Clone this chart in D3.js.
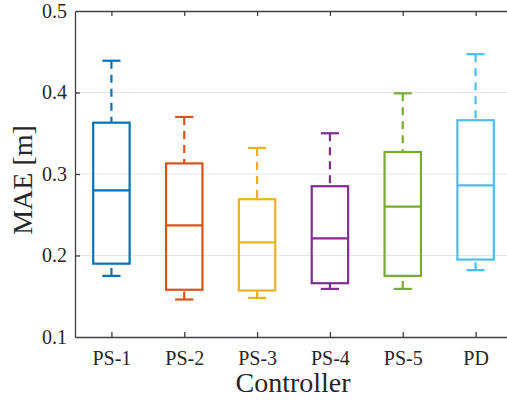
<!DOCTYPE html>
<html lang="en">
<head>
    <meta charset="UTF-8"/>
    <title>MAE box plot</title>
    <script src="https://d3js.org/d3.v7.min.js"></script>
    <style>
        body { margin: 0; background: #fff; }
    </style>
</head>
<body>
<script>

    var w = 507;
    var h = 401;

    // data
    var categories = ["PS-1", "PS-2", "PS-3", "PS-4", "PS-5", "PD"];
    var upperWhisker = [0.439, 0.370, 0.332, 0.350, 0.399, 0.447];
    var q3 = [0.363, 0.313, 0.269, 0.285, 0.327, 0.366];
    var median = [0.280, 0.237, 0.216, 0.221, 0.260, 0.286];
    var q1 = [0.190, 0.158, 0.157, 0.166, 0.175, 0.195];
    var lowerWhisker = [0.175, 0.146, 0.148, 0.159, 0.159, 0.182];
    var colors = ["#0072BD", "#D95319", "#EDB120", "#7E2F8E", "#77AC30", "#4DBEEE"];
    var yTicks = [0.1, 0.2, 0.3, 0.4, 0.5];

    var serif = "'Liberation Serif', 'Times New Roman', serif";
    var plotLeft = 75, plotTop = 11, plotRight = 512, plotBottom = 337;

    var xScale = d3.scaleLinear()
                    .domain([0.5, categories.length + 0.5])
                    .range([plotLeft, plotRight]);

    var yScale = d3.scaleLinear()
                    .domain([0.1, 0.5])
                    .range([plotBottom, plotTop]);

    var svg = d3.select("body")
                .append("svg")
                .attr("width", w)
                .attr("height", h);

    // grid
    svg.selectAll(".grid")
        .data(yTicks.slice(1, -1))
        .enter()
        .append("line")
        .attr("x1", plotLeft)
        .attr("x2", plotRight)
        .attr("y1", function(d){ return yScale(d); })
        .attr("y2", function(d){ return yScale(d); })
        .style("stroke", "#e6e6e6")
        .style("stroke-width", 1);

    // axes (ticks pointing inward, like matlab)
    var xAxis = d3.axisBottom(xScale)
                    .tickValues(d3.range(1, categories.length + 1))
                    .tickFormat(function(d){ return categories[d - 1]; })
                    .tickSizeInner(-5)
                    .tickSizeOuter(0)
                    .tickPadding(14);

    var yAxis = d3.axisLeft(yScale)
                    .tickValues(yTicks)
                    .tickFormat(d3.format(".1f"))
                    .tickSizeInner(-5)
                    .tickSizeOuter(0)
                    .tickPadding(8);

    var topAxis = d3.axisTop(xScale)
                    .tickValues(d3.range(1, categories.length + 1))
                    .tickFormat("")
                    .tickSizeInner(-5)
                    .tickSizeOuter(0);

    var gx = svg.append("g")
        .attr("transform", "translate(0," + plotBottom + ")")
        .call(xAxis);

    var gy = svg.append("g")
        .attr("transform", "translate(" + plotLeft + ",0)")
        .call(yAxis);

    var gt = svg.append("g")
        .attr("transform", "translate(0," + plotTop + ")")
        .call(topAxis);

    [gx, gy, gt].forEach(function(g){
        g.selectAll("path, line").style("stroke", "#404040").style("stroke-width", 1.3);
        g.selectAll("text")
            .style("font-family", serif)
            .style("font-size", "20px")
            .style("fill", "#262626");
    });
    gy.selectAll(".tick line").filter(function(d){ return d === 0.1 || d === 0.5; }).remove();

    // boxes
    var boxes = svg.selectAll(".box")
        .data(categories)
        .enter()
        .append("g")
        .attr("class", "box")
        .style("stroke", function(d, i){ return colors[i]; })
        .style("stroke-width", 2.2)
        .style("fill", "none");

    // dashed whiskers
    boxes.append("line")
        .attr("x1", function(d, i){ return xScale(i + 1); })
        .attr("x2", function(d, i){ return xScale(i + 1); })
        .attr("y1", function(d, i){ return yScale(upperWhisker[i]); })
        .attr("y2", function(d, i){ return yScale(q3[i]); })
        .style("stroke-dasharray", "8,6");

    boxes.append("line")
        .attr("x1", function(d, i){ return xScale(i + 1); })
        .attr("x2", function(d, i){ return xScale(i + 1); })
        .attr("y1", function(d, i){ return yScale(lowerWhisker[i]); })
        .attr("y2", function(d, i){ return yScale(q1[i]); })
        .style("stroke-dasharray", "8,6");

    // caps
    boxes.append("line")
        .attr("x1", function(d, i){ return xScale(i + 1 - 0.125); })
        .attr("x2", function(d, i){ return xScale(i + 1 + 0.125); })
        .attr("y1", function(d, i){ return yScale(upperWhisker[i]); })
        .attr("y2", function(d, i){ return yScale(upperWhisker[i]); });

    boxes.append("line")
        .attr("x1", function(d, i){ return xScale(i + 1 - 0.125); })
        .attr("x2", function(d, i){ return xScale(i + 1 + 0.125); })
        .attr("y1", function(d, i){ return yScale(lowerWhisker[i]); })
        .attr("y2", function(d, i){ return yScale(lowerWhisker[i]); });

    // box
    boxes.append("rect")
        .attr("x", function(d, i){ return xScale(i + 1 - 0.25); })
        .attr("y", function(d, i){ return yScale(q3[i]); })
        .attr("width", function(d, i){ return xScale(i + 1.25) - xScale(i + 0.75); })
        .attr("height", function(d, i){ return yScale(q1[i]) - yScale(q3[i]); });

    // median
    boxes.append("line")
        .attr("x1", function(d, i){ return xScale(i + 1 - 0.25); })
        .attr("x2", function(d, i){ return xScale(i + 1 + 0.25); })
        .attr("y1", function(d, i){ return yScale(median[i]); })
        .attr("y2", function(d, i){ return yScale(median[i]); });

    // labels
    svg.append("text")
        .attr("x", 293)
        .attr("y", 392)
        .attr("text-anchor", "middle")
        .style("font-family", serif)
        .style("font-size", "28px")
        .style("fill", "#262626")
        .text("Controller");

    svg.append("text")
        .attr("transform", "translate(32,180) rotate(-90)")
        .attr("text-anchor", "middle")
        .style("font-family", serif)
        .style("font-size", "28px")
        .style("fill", "#262626")
        .text("MAE [m]");

</script>
</body>
</html>
